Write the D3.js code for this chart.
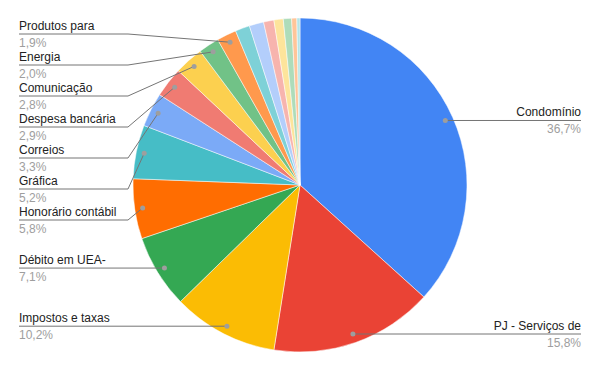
<!DOCTYPE html>
<html>
<head>
<meta charset="utf-8">
<script src="https://cdn.jsdelivr.net/npm/d3@7"></script>
<style>
  html, body { margin: 0; padding: 0; background: #fff; }
  svg { display: block; font-family: "Liberation Sans", Arial, sans-serif; }
</style>
</head>
<body>
<svg id="chart" width="600" height="371"></svg>
<script>
// ---- data ----
const categories = [
  "Condomínio", "PJ - Serviços de", "Impostos e taxas", "Débito em UEA-",
  "Honorário contábil", "Gráfica", "Correios", "Despesa bancária",
  "Comunicação", "Energia", "Produtos para",
  "Outros 1", "Outros 2", "Outros 3", "Outros 4", "Outros 5", "Outros 6", "Outros 7"
];
const values = [36.7, 15.8, 10.2, 7.1, 5.8, 5.2, 3.3, 2.9, 2.8, 2.0, 1.9,
                 1.4, 1.4, 1.0, 0.9, 0.8, 0.5, 0.3];
const valueLabels = ["36,7%", "15,8%", "10,2%", "7,1%", "5,8%", "5,2%", "3,3%", "2,9%",
                     "2,8%", "2,0%", "1,9%"];
const palette = ["#4285f4", "#ea4335", "#fbbc04", "#34a853", "#ff6d01", "#46bdc6",
                 "#7baaf7", "#f07b72", "#fcd04f", "#71c287", "#ff994d", "#7ed1d7",
                 "#b3cefb", "#f7b4ae", "#fde49b", "#aedcba", "#ffc599", "#b5e5e8"];

// ---- layout ----
const W = 600, H = 371;
const cx = 300, cy = 185, R = 167;
const dotR = R * 0.952;
const spacing = 31, minY = 34, maxY = 334;
const leftX = 19, leftElbow = 128, rightX = 581, rightElbow = 472;

const svg = d3.select("#chart");
const g = svg.append("g").attr("transform", `translate(${cx},${cy})`);

const data = categories.map((c, i) => ({ name: c, value: values[i], i }));
const pie = d3.pie().value(d => d.value).sort(null);
const arcs = pie(data);
const arc = d3.arc().innerRadius(0).outerRadius(R);
const color = d3.scaleOrdinal().domain(categories).range(palette);

g.selectAll("path.slice").data(arcs).join("path")
  .attr("class", "slice")
  .attr("d", arc)
  .attr("fill", d => color(d.data.name))
  .attr("stroke", "#fff")
  .attr("stroke-width", 0.5);

// labels
const labeled = arcs.filter(d => d.data.i < valueLabels.length).map(d => {
  const a = (d.startAngle + d.endAngle) / 2;
  const px = cx + dotR * Math.sin(a), py = cy - dotR * Math.cos(a);
  return { d, a, px, py, side: Math.sin(a) >= 0 ? "right" : "left", y: py };
});

function resolve(items) {
  items.sort((a, b) => a.py - b.py);
  let clusters = [];
  items.forEach(it => {
    clusters.push({ items: [it] });
    while (clusters.length > 1) {
      const c = clusters[clusters.length - 1], p = clusters[clusters.length - 2];
      place(p); place(c);
      if (p.start + spacing * p.items.length > c.start) {
        p.items = p.items.concat(c.items);
        clusters.pop();
      } else break;
    }
    place(clusters[clusters.length - 1]);
  });
  function place(c) {
    const n = c.items.length;
    let s = d3.mean(c.items, (it, k) => it.py - spacing * k);
    s = Math.max(minY, Math.min(maxY - spacing * (n - 1), s));
    c.start = s;
  }
  clusters.forEach(c => c.items.forEach((it, k) => it.y = c.start + spacing * k));
}
resolve(labeled.filter(l => l.side === "left"));
resolve(labeled.filter(l => l.side === "right"));

const lg = svg.append("g");
labeled.forEach(l => {
  const left = l.side === "left";
  const tx = left ? leftX : rightX;
  const ex = left ? leftElbow : rightElbow;
  let pts;
  if (Math.abs(l.y - l.py) < 1.5) pts = [[tx, l.y], [l.px, l.y]];
  else pts = [[tx, l.y], [ex, l.y], [l.px, l.py]];
  lg.append("path")
    .attr("d", d3.line()(pts))
    .attr("fill", "none")
    .attr("stroke", "#757575")
    .attr("stroke-width", 1);
  lg.append("circle")
    .attr("cx", l.px).attr("cy", Math.abs(l.y - l.py) < 1.5 ? l.y : l.py)
    .attr("r", 2.5).attr("fill", "#9e9e9e");
  lg.append("text")
    .attr("x", tx).attr("y", l.y - 4.5)
    .attr("text-anchor", left ? "start" : "end")
    .attr("font-size", 12).attr("fill", "#222")
    .text(l.d.data.name);
  lg.append("text")
    .attr("x", tx).attr("y", l.y + 12.5)
    .attr("text-anchor", left ? "start" : "end")
    .attr("font-size", 12).attr("fill", "#9e9e9e")
    .text(valueLabels[l.d.data.i]);
});
</script>
</body>
</html>
